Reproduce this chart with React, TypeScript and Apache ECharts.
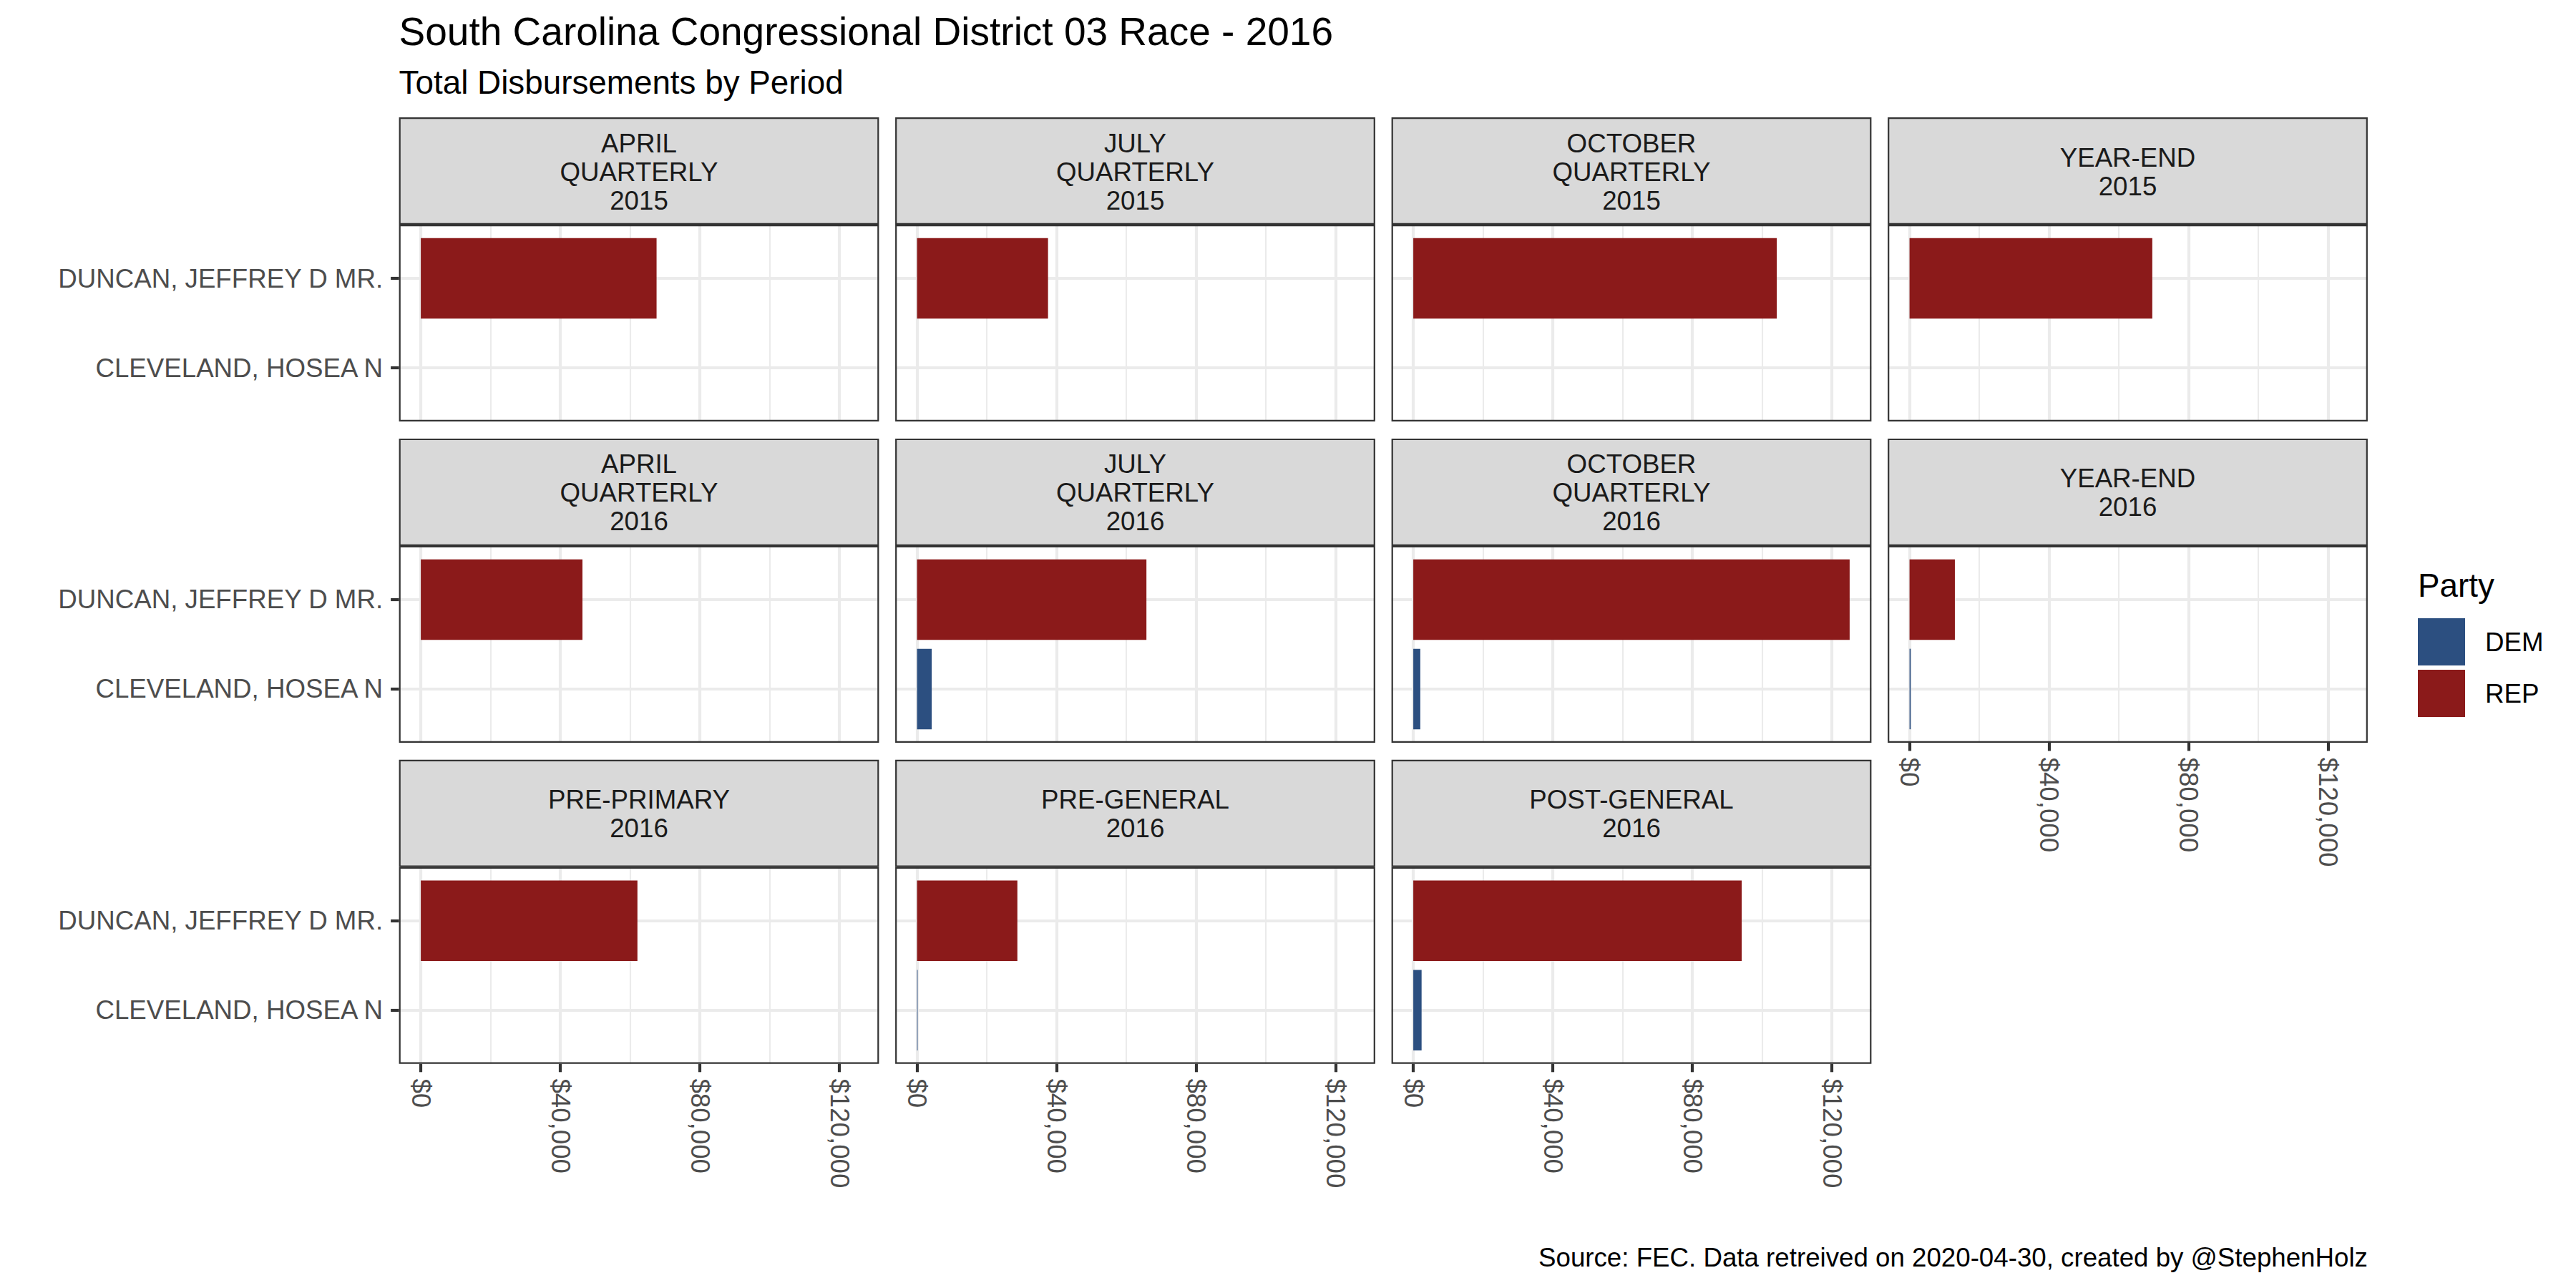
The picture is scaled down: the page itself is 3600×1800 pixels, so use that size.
import React, { useEffect, useRef } from 'react';
import * as echarts from 'echarts';

// ---------- data ----------
const periodLabels = [
  'APRIL\nQUARTERLY\n2015',
  'JULY\nQUARTERLY\n2015',
  'OCTOBER\nQUARTERLY\n2015',
  'YEAR-END\n2015',
  'APRIL\nQUARTERLY\n2016',
  'JULY\nQUARTERLY\n2016',
  'OCTOBER\nQUARTERLY\n2016',
  'YEAR-END\n2016',
  'PRE-PRIMARY\n2016',
  'PRE-GENERAL\n2016',
  'POST-GENERAL\n2016',
];
// bottom to top on the y axis
const candidates = ['CLEVELAND, HOSEA N', 'DUNCAN, JEFFREY D MR.'];
const parties = ['DEM', 'REP'];
const repDuncan = [67590, 37550, 104210, 69600, 46340, 65760, 125100, 13000, 62100, 28760, 94150];
const demCleveland = [null, null, null, null, null, 4210, 2010, 350, null, 180, 2380];
const majorBreaks = [0, 40000, 80000, 120000];
const minorBreaks = [20000, 60000, 100000];

const titleText = 'South Carolina Congressional District 03 Race - 2016';
const subtitleText = 'Total Disbursements by Period';
const captionText = 'Source: FEC. Data retreived on 2020-04-30, created by @StephenHolz';
const legendTitle = 'Party';

// ---------- style / layout ----------
const FONT = '"Liberation Sans", Arial, Helvetica, sans-serif';
const partyColor: Record<string, string> = { DEM: '#2C4F80', REP: '#8B1A1A' };
const NCOL = 4;
const PANEL_LEFT0 = 557.6;
const COL_PITCH = 693.5;
const PANEL_W = 670.8;
const PANEL_TOP0 = 314;
const ROW_PITCH = 448.9;
const PANEL_H = 275;
const STRIP_H = 150;
const BORDER = 2.2;
const GRID_MAJOR = 4.2;
const GRID_MINOR = 2.1;
const TICK_LEN = 11.5;
const AXIS_TEXT = 36.7;

const dataMax = Math.max(...repDuncan, ...demCleveland.map((v) => (v == null ? 0 : v)));
const X_MIN = -0.05 * dataMax;
const X_MAX = dataMax * 1.05;

const money = (v: number) => '$' + Math.round(v).toLocaleString('en-US');

function buildOption() {
  const grid: any[] = [];
  const xAxis: any[] = [];
  const yAxis: any[] = [];
  const series: any[] = [];
  const graphics: any[] = [];
  const n = periodLabels.length;

  for (let i = 0; i < n; i++) {
    const row = Math.floor(i / NCOL);
    const col = i % NCOL;
    const left = PANEL_LEFT0 + col * COL_PITCH;
    const top = PANEL_TOP0 + row * ROW_PITCH;
    const showBottom = i + NCOL >= n;
    const showLeft = col === 0;
    const unit = PANEL_H / 2.2;

    // frame grid (full panel)
    grid.push({
      left,
      top,
      width: PANEL_W,
      height: PANEL_H,
      show: true,
      backgroundColor: '#FFFFFF',
      borderWidth: 0,
    });
    // bar grid (category bands only)
    grid.push({
      left,
      top: top + 0.1 * unit,
      width: PANEL_W,
      height: 2 * unit,
      show: false,
    });
    const fg = 2 * i;
    const bg = 2 * i + 1;

    xAxis.push({
      type: 'value',
      gridIndex: fg,
      position: 'bottom',
      min: X_MIN,
      max: X_MAX,
      axisLine: { show: false, onZero: false },
      axisTick: {
        show: showBottom,
        customValues: majorBreaks,
        length: TICK_LEN,
        lineStyle: { color: '#333333', width: GRID_MAJOR },
      },
      axisLabel: {
        show: showBottom,
        customValues: majorBreaks,
        formatter: (v: number) => money(v),
        rotate: -90,
        margin: 20.6,
        color: '#4D4D4D',
        fontSize: AXIS_TEXT,
        fontFamily: FONT,
      },
      splitLine: { show: true, lineStyle: { color: '#EBEBEB', width: GRID_MAJOR } },
    });
    xAxis.push({
      type: 'value',
      gridIndex: fg,
      position: 'top',
      min: X_MIN,
      max: X_MAX,
      axisLine: { show: false, onZero: false },
      axisTick: { show: false, customValues: minorBreaks },
      axisLabel: { show: false, customValues: minorBreaks },
      splitLine: { show: true, lineStyle: { color: '#EBEBEB', width: GRID_MINOR } },
    });
    xAxis.push({
      type: 'value',
      gridIndex: bg,
      min: X_MIN,
      max: X_MAX,
      show: false,
      axisLine: { show: false, onZero: false },
    });

    yAxis.push({
      type: 'value',
      gridIndex: fg,
      min: 0,
      max: 1,
      show: false,
      axisLine: { show: false, onZero: false },
    });
    yAxis.push({
      type: 'category',
      gridIndex: bg,
      position: 'left',
      data: candidates,
      axisLine: { show: false, onZero: false },
      axisTick: {
        show: showLeft,
        alignWithLabel: true,
        interval: 0,
        length: TICK_LEN,
        lineStyle: { color: '#333333', width: GRID_MAJOR },
      },
      axisLabel: {
        show: showLeft,
        interval: 0,
        margin: 22.5,
        color: '#4D4D4D',
        fontSize: AXIS_TEXT,
        fontFamily: FONT,
      },
      splitLine: {
        show: true,
        interval: 0,
        alignWithLabel: true,
        lineStyle: { color: '#EBEBEB', width: GRID_MAJOR },
      },
    });

    const xi = 3 * i + 2;
    const yi = 2 * i + 1;
    series.push({
      type: 'bar',
      name: parties[0],
      xAxisIndex: xi,
      yAxisIndex: yi,
      data: [demCleveland[i] == null ? '-' : demCleveland[i], '-'],
      barWidth: '90%',
      barGap: '-100%',
      itemStyle: { color: partyColor.DEM },
      z: 3,
    });
    series.push({
      type: 'bar',
      name: parties[1],
      xAxisIndex: xi,
      yAxisIndex: yi,
      data: ['-', repDuncan[i]],
      barWidth: '90%',
      barGap: '-100%',
      itemStyle: { color: partyColor.REP },
      z: 3,
    });

    // strip
    const stripTop = top - STRIP_H;
    graphics.push({
      type: 'rect',
      z: 50,
      silent: true,
      shape: {
        x: left + BORDER / 2,
        y: stripTop + BORDER / 2,
        width: PANEL_W - BORDER,
        height: STRIP_H - BORDER,
      },
      style: { fill: '#D9D9D9', stroke: '#333333', lineWidth: BORDER },
    });
    graphics.push({
      type: 'text',
      z: 51,
      silent: true,
      style: {
        text: periodLabels[i],
        x: left + PANEL_W / 2,
        y: stripTop + STRIP_H / 2 + 1,
        align: 'center',
        verticalAlign: 'middle',
        lineHeight: 40,
        fontSize: AXIS_TEXT,
        fontFamily: FONT,
        fill: '#1A1A1A',
      },
    });
    // panel border
    graphics.push({
      type: 'rect',
      z: 50,
      silent: true,
      shape: {
        x: left + BORDER / 2,
        y: top + BORDER / 2,
        width: PANEL_W - BORDER,
        height: PANEL_H - BORDER,
      },
      style: { fill: 'none', stroke: '#333333', lineWidth: BORDER },
    });
  }

  return {
    animation: false,
    backgroundColor: '#FFFFFF',
    textStyle: { fontFamily: FONT },
    title: [
      {
        text: titleText,
        left: PANEL_LEFT0,
        top: 16.4,
        padding: 0,
        textStyle: { fontSize: 55, fontWeight: 'normal', color: '#000000', fontFamily: FONT },
      },
      {
        text: subtitleText,
        left: PANEL_LEFT0,
        top: 92.1,
        padding: 0,
        textStyle: { fontSize: 45.8, fontWeight: 'normal', color: '#000000', fontFamily: FONT },
      },
      {
        text: captionText,
        right: 3600 - (PANEL_LEFT0 + 3 * COL_PITCH + PANEL_W),
        top: 1738.9,
        padding: 0,
        textStyle: { fontSize: AXIS_TEXT, fontWeight: 'normal', color: '#000000', fontFamily: FONT },
      },
      {
        text: legendTitle,
        left: 3379,
        top: 795.5,
        padding: 0,
        textStyle: { fontSize: 45.8, fontWeight: 'normal', color: '#000000', fontFamily: FONT },
      },
    ],
    legend: {
      data: parties,
      orient: 'vertical',
      left: 3379,
      top: 864,
      padding: 0,
      itemWidth: 66,
      itemHeight: 66,
      itemGap: 6,
      icon: 'rect',
      selectedMode: false,
      formatter: '{t|{name}}',
      textStyle: {
        color: '#000000',
        fontSize: AXIS_TEXT,
        fontFamily: FONT,
        rich: {
          t: { padding: [0, 0, 0, 23], fontSize: AXIS_TEXT, fontFamily: FONT, color: '#000000' },
        },
      },
    },
    grid,
    xAxis,
    yAxis,
    series,
    graphic: { elements: graphics },
  };
}

export default function App() {
  const ref = useRef<HTMLDivElement>(null);
  useEffect(() => {
    document.body.style.margin = '0';
    if (!ref.current) return;
    const chart = echarts.init(ref.current, null, { renderer: 'svg', width: 3600, height: 1800 });
    chart.setOption(buildOption() as any);
    return () => chart.dispose();
  }, []);
  return (
    <div
      ref={ref}
      style={{ position: 'absolute', left: 0, top: 0, width: 3600, height: 1800, background: '#FFFFFF' }}
    />
  );
}
